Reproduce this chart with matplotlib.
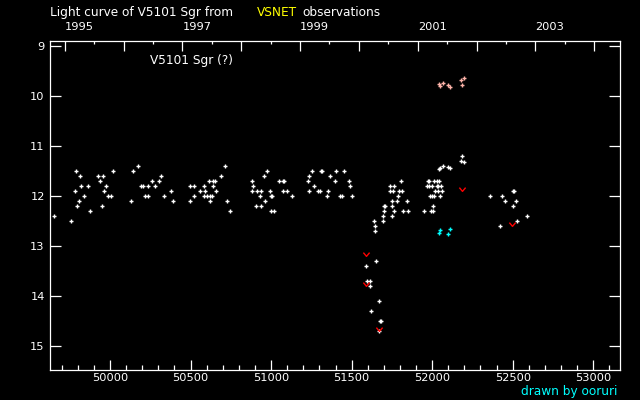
import matplotlib
matplotlib.use("Agg")
import matplotlib.pyplot as plt
from matplotlib.path import Path
from matplotlib.ticker import MultipleLocator

# JD - 2400000 and visual magnitudes of V5101 Sgr
vis_jd = [
    # 1995
    49655, 49760, 49785, 49791, 49797, 49810, 49816, 49822, 49841, 49866,
    49878, 49928, 49940, 49952, 49959, 49965, 49977, 49990, 50008, 50021,
    # 1996
    50132, 50145, 50176, 50195, 50207, 50219, 50238, 50238, 50263, 50281,
    50306, 50319, 50337, 50381, 50393,
    # 1997
    50499, 50499, 50523, 50523, 50561, 50586, 50586, 50592, 50604, 50617,
    50623, 50623, 50635, 50641, 50641, 50654, 50660, 50691, 50716, 50728,
    50747,
    # 1998
    50884, 50884, 50890, 50908, 50915, 50933, 50939, 50939, 50958, 50964,
    50977, 50995, 51001, 51001, 51008, 51020, 51051, 51076, 51076, 51082,
    51101, 51132,
    # 1999
    51231, 51237, 51237, 51256, 51268, 51293, 51306, 51312, 51318, 51349,
    51355, 51368, 51399, 51405, 51430, 51442, 51455, 51486, 51492, 51504,
    # 2000
    51591, 51597, 51616, 51616, 51622, 51641, 51647, 51647, 51653, 51672,
    51672, 51678, 51684, 51697, 51697, 51703, 51703, 51709, 51740, 51740,
    51752, 51752, 51752, 51759, 51765, 51765, 51783, 51790, 51796, 51808,
    51814, 51821, 51845, 51852,
    # 2001
    51951, 51966, 51972, 51978, 51978, 51985, 51994, 51997, 51997, 52007,
    52007, 52009, 52009, 52016, 52028, 52028, 52034, 52034, 52040, 52050,
    52057, 52063, 52044, 52050, 52069, 52100, 52112, 52181, 52187, 52199,
    # 2002
    52361, 52423, 52435, 52454, 52503, 52503, 52510, 52522, 52528, 52590,
]
vis_mag = [
    12.4, 12.5, 11.9, 11.5, 12.2, 12.1, 11.6, 11.8, 12.0, 11.8,
    12.3, 11.6, 11.7, 12.2, 11.6, 11.9, 11.8, 12.0, 12.0, 11.5,
    12.1, 11.5, 11.4, 11.8, 11.8, 12.0, 12.0, 11.8, 11.7, 11.8,
    11.7, 11.6, 12.0, 11.9, 12.1,
    11.8, 12.1, 11.8, 12.0, 11.9, 11.8, 12.0, 11.9, 12.0, 11.7,
    12.0, 12.1, 12.0, 11.7, 11.8, 11.7, 11.9, 11.6, 11.4, 12.1,
    12.3,
    11.7, 11.9, 11.8, 12.2, 11.9, 12.0, 11.9, 12.2, 11.6, 12.1,
    11.5, 11.9, 12.0, 12.3, 12.0, 12.3, 11.7, 11.7, 11.9, 11.7,
    11.9, 12.0,
    11.7, 11.6, 11.9, 11.5, 11.8, 11.9, 11.9, 11.5, 11.5, 12.0,
    11.9, 11.6, 11.7, 11.5, 12.0, 12.0, 11.5, 11.7, 11.8, 12.0,
    13.4, 13.7, 13.7, 13.8, 14.3, 12.5, 12.6, 12.7, 13.3, 14.1,
    14.7, 14.5, 14.5, 12.4, 12.5, 12.2, 12.3, 12.2, 11.8, 11.9,
    12.1, 12.2, 12.4, 11.9, 11.8, 12.3, 12.1, 12.0, 11.9, 11.7,
    11.9, 12.3, 12.1, 12.3,
    12.3, 11.8, 11.7, 11.7, 11.8, 12.0, 12.3, 11.8, 12.0, 12.2,
    12.3, 11.7, 12.0, 11.9, 11.7, 11.8, 11.8, 11.9, 11.7, 12.0,
    11.8, 11.9, 11.46, 11.44, 11.40, 11.42, 11.44, 11.3, 11.2, 11.32,
    12.0, 12.6, 12.0, 12.1, 11.9, 12.2, 11.9, 12.1, 12.5, 12.4,
]

# fainter-than estimates
faint_jd = [51587, 51591, 51672, 52187, 52497]
faint_mag = [13.75, 13.16, 14.66, 11.85, 12.55]

# pink and cyan marks
pink_jd = [52044, 52050, 52069, 52100, 52112, 52181, 52187, 52199]
pink_mag = [9.76, 9.80, 9.74, 9.78, 9.82, 9.68, 9.78, 9.64]
cyan_jd = [52044, 52050, 52100, 52112]
cyan_mag = [12.74, 12.68, 12.76, 12.66]

# JD - 2400000 of Jan 1 of each year
years = [1995, 1996, 1997, 1998, 1999, 2000, 2001, 2002, 2003, 2004]
year_jd = [49718.5, 50083.5, 50449.5, 50814.5, 51179.5, 51544.5,
           51910.5, 52275.5, 52640.5, 53005.5]

FS = 8.7
TICK_FS = 8.2

fig = plt.figure(figsize=(6.4, 4.0), dpi=100, facecolor="black")
ax = fig.add_axes([50.3 / 640, 30 / 400, 570 / 640, 329.5 / 400])
ax.set_facecolor("black")

ax.plot(vis_jd, vis_mag, ls="none", marker="+", ms=3.5, mew=1.0, color="white")
ax.plot(pink_jd, pink_mag, ls="none", marker="+", ms=3.5, mew=1.0, color="#ffb4aa")
ax.plot(cyan_jd, cyan_mag, ls="none", marker="+", ms=3.5, mew=1.0, color="#00ffff")
vmark = Path([(-1, 0.6), (0, -0.6), (1, 0.6)], [Path.MOVETO, Path.LINETO, Path.LINETO])
ax.plot(faint_jd, faint_mag, ls="none", marker=vmark, ms=4.5, mew=1.0,
        mfc="none", mec="red")

ax.set_xlim(49629, 53168)
ax.set_ylim(15.474, 8.884)

for s in ax.spines.values():
    s.set_color("white")
    s.set_linewidth(0.9)

ax.xaxis.set_major_locator(MultipleLocator(500))
ax.xaxis.set_minor_locator(MultipleLocator(100))
ax.set_yticks(range(9, 16))
ax.tick_params(axis="both", which="both", direction="in", colors="white",
               labelsize=TICK_FS, width=0.9)
ax.tick_params(axis="x", which="major", length=7.5, pad=2)
ax.tick_params(axis="x", which="minor", length=3.6)
ax.tick_params(axis="y", which="major", length=7.7, right=True, pad=4)

top = ax.twiny()
top.set_xlim(ax.get_xlim())
mid_jd = [(a + b) / 2 for a, b in zip(year_jd[:-1], year_jd[1:])]
top.set_xticks(year_jd, labels=[str(y) if y % 2 else "" for y in years])
top.set_xticks(mid_jd, minor=True)
top.tick_params(axis="x", which="both", direction="in", colors="white",
                labelsize=TICK_FS, width=0.9)
top.tick_params(axis="x", which="major", length=7.5, pad=6)
top.tick_params(axis="x", which="minor", length=2.5)
for lab in top.get_xticklabels():
    lab.set_ha("left")
for s in top.spines.values():
    s.set_visible(False)

fig.text(50 / 640, 1 - 12.3 / 400, "Light curve of V5101 Sgr from",
         color="white", fontsize=FS, va="center", ha="left")
fig.text(257 / 640, 1 - 12.3 / 400, "VSNET", color="yellow",
         fontsize=FS, va="center", ha="left")
fig.text(302 / 640, 1 - 12.3 / 400, "observations", color="white",
         fontsize=FS, va="center", ha="left")
fig.text(150 / 640, 1 - 60.7 / 400, "V5101 Sgr (?)", color="white",
         fontsize=FS, va="center", ha="left")
fig.text(617 / 640, 1 - 392 / 400, "drawn by ooruri", color="#00ffff",
         fontsize=FS, va="center", ha="right")

fig.savefig("out.png", dpi=100, facecolor="black")
